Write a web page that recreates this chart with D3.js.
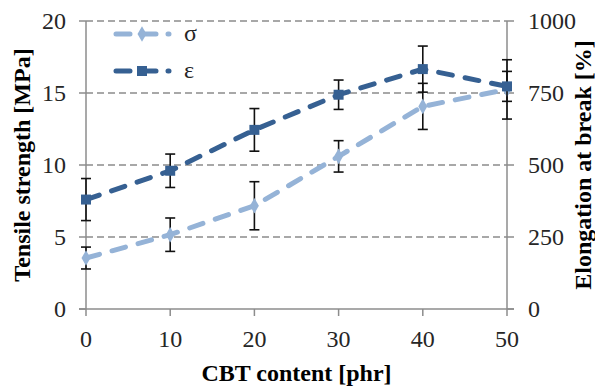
<!DOCTYPE html>
<html lang="en">
<head>
  <meta charset="UTF-8">
  <title>Tensile strength and elongation vs CBT content</title>
  <script src="https://d3js.org/d3.v7.min.js"></script>
  <style>
    body { margin: 0; background: #fff; }
    text { font-family: "Liberation Serif" !important; }
  </style>
</head>
<body>
  <svg width="595" height="390"></svg>

  <script>
    // data
    const cbt = [0, 10, 20, 30, 40, 50];
    const sigma = [3.54, 5.16, 7.17, 10.6, 14.07, 15.25];      // MPa, left axis
    const sigmaErr = [0.76, 1.16, 1.67, 1.09, 1.6, 2.06];
    const eps = [380, 480, 622, 744, 833, 773];                 // %, right axis
    const epsErr = [73, 58, 74, 51, 80, 52];
    const xTicks = [0, 10, 20, 30, 40, 50];
    const leftTicks = [0, 5, 10, 15, 20];
    const rightTicks = [0, 250, 500, 750, 1000];

    const plotL = 86, plotR = 507, plotT = 21, plotB = 309;
    const svg = d3.select("svg");

    function label(sel, bold) {
      return sel.attr("font-family", "Liberation Serif")
        .style("font-family", '"Liberation Serif"')
        .attr("font-size", 24)
        .attr("font-weight", bold ? "bold" : null)
        .attr("fill", bold ? "#000" : "#262626");
    }

    const x = d3.scaleLinear().domain([0, 50]).range([plotL, plotR]);
    const yL = d3.scaleLinear().domain([0, 20]).range([plotB, plotT]);
    const yR = d3.scaleLinear().domain([0, 1000]).range([plotB, plotT]);

    const lightBlue = "#95b3d7", darkBlue = "#366092";
    const gridCol = "#8c8c8c";

    // gridlines
    svg.append("g").selectAll("line")
      .data(leftTicks.filter(d => d > 0))
      .join("line")
      .attr("x1", plotL).attr("x2", plotR)
      .attr("y1", d => yL(d)).attr("y2", d => yL(d))
      .attr("stroke", gridCol).attr("stroke-width", 1.3)
      .attr("stroke-dasharray", "7,4");

    // axis lines
    const axisG = svg.append("g").attr("stroke", gridCol).attr("stroke-width", 1.5);
    axisG.append("line").attr("x1", plotL).attr("x2", plotL).attr("y1", plotT).attr("y2", plotB);
    axisG.append("line").attr("x1", plotR).attr("x2", plotR).attr("y1", plotT).attr("y2", plotB);
    axisG.append("line").attr("x1", plotL - 7).attr("x2", plotR + 7).attr("y1", plotB).attr("y2", plotB);
    axisG.selectAll("line.lt").data(leftTicks).join("line").attr("class", "lt")
      .attr("x1", plotL - 7).attr("x2", plotL).attr("y1", d => yL(d)).attr("y2", d => yL(d));
    axisG.selectAll("line.rt").data(rightTicks).join("line").attr("class", "rt")
      .attr("x1", plotR).attr("x2", plotR + 7).attr("y1", d => yR(d)).attr("y2", d => yR(d));
    axisG.selectAll("line.bt").data(xTicks).join("line").attr("class", "bt")
      .attr("x1", d => x(d)).attr("x2", d => x(d)).attr("y1", plotB).attr("y2", plotB + 7);

    // tick labels
    svg.selectAll("text.yl")
      .data(leftTicks).join("text").attr("class", "yl")
      .call(label, false)
      .attr("x", 66).attr("y", d => yL(d) + 8)
      .attr("text-anchor", "end")
      .text(d => d);
    svg.selectAll("text.yr")
      .data(rightTicks).join("text").attr("class", "yr")
      .call(label, false)
      .attr("x", 528).attr("y", d => yR(d) + 8)
      .attr("text-anchor", "start")
      .text(d => d);
    svg.selectAll("text.xt")
      .data(xTicks).join("text").attr("class", "xt")
      .call(label, false)
      .attr("x", d => x(d)).attr("y", 347)
      .attr("text-anchor", "middle")
      .text(d => d);

    // axis titles
    svg.append("text").call(label, true)
      .attr("x", (plotL + plotR) / 2).attr("y", 381)
      .attr("text-anchor", "middle")
      .text("CBT content [phr]");
    svg.append("text").call(label, true)
      .attr("transform", `translate(30,${(plotT + plotB) / 2}) rotate(-90)`)
      .attr("text-anchor", "middle")
      .text("Tensile strength [MPa]");
    svg.append("text").call(label, true)
      .attr("transform", `translate(591,${(plotT + plotB) / 2}) rotate(-90)`)
      .attr("text-anchor", "middle")
      .text("Elongation at break [%]");

    function drawSeries(vals, errs, y, color, marker) {
      const g = svg.append("g");
      const pts = cbt.map((c, i) => ({ c, v: vals[i], e: errs[i] }));

      // error bars
      const eb = g.append("g").attr("stroke", "#111").attr("stroke-width", 1.6);
      eb.selectAll("line.v").data(pts).join("line").attr("class", "v")
        .attr("x1", d => x(d.c)).attr("x2", d => x(d.c))
        .attr("y1", d => y(d.v - d.e)).attr("y2", d => y(d.v + d.e));
      eb.selectAll("line.c1").data(pts).join("line").attr("class", "c1")
        .attr("x1", d => x(d.c) - 5).attr("x2", d => x(d.c) + 5)
        .attr("y1", d => y(d.v - d.e)).attr("y2", d => y(d.v - d.e));
      eb.selectAll("line.c2").data(pts).join("line").attr("class", "c2")
        .attr("x1", d => x(d.c) - 5).attr("x2", d => x(d.c) + 5)
        .attr("y1", d => y(d.v + d.e)).attr("y2", d => y(d.v + d.e));

      // dashed line
      g.append("path")
        .datum(pts)
        .attr("fill", "none")
        .attr("stroke", color).attr("stroke-width", 5)
        .attr("stroke-linecap", "round")
        .attr("stroke-dasharray", "14,13")
        .attr("d", d3.line().x(d => x(d.c)).y(d => y(d.v)));

      // markers
      g.selectAll("path.m").data(pts).join("path").attr("class", "m")
        .attr("transform", d => `translate(${x(d.c)},${y(d.v)})`)
        .attr("d", marker)
        .attr("fill", color);
    }

    const diamondPath = d3.symbol(d3.symbolDiamond, 70)();
    const squarePath = d3.symbol(d3.symbolSquare, 100)();
    drawSeries(sigma, sigmaErr, yL, lightBlue, diamondPath);
    drawSeries(eps, epsErr, yR, darkBlue, squarePath);

    // legend
    const legend = [
      { name: "σ", color: lightBlue, marker: diamondPath, y: 34 },
      { name: "ε", color: darkBlue, marker: squarePath, y: 71 }
    ];
    legend.forEach(l => {
      svg.append("line")
        .attr("x1", 116).attr("x2", 169).attr("y1", l.y).attr("y2", l.y)
        .attr("stroke", l.color).attr("stroke-width", 5)
        .attr("stroke-linecap", "round")
        .attr("stroke-dasharray", "14,12");
      svg.append("path")
        .attr("transform", `translate(142,${l.y})`)
        .attr("d", l.marker).attr("fill", l.color);
      svg.append("text").call(label, false)
        .attr("x", 184).attr("y", l.y + 7)
        .text(l.name);
    });
  </script>
</body>
</html>
